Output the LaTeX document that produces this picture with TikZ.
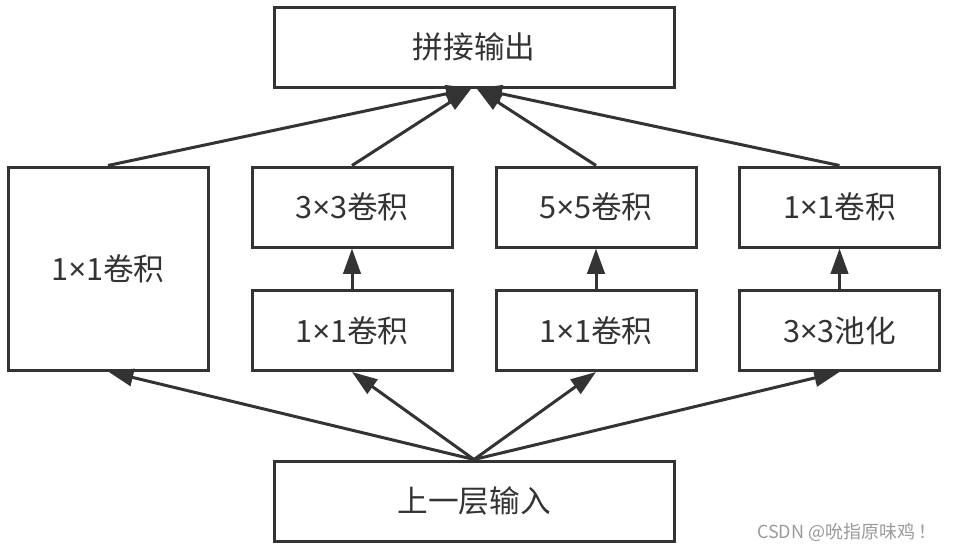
\documentclass[tikz,border=0pt]{standalone}
\usepackage{fontspec}
\setmainfont{Noto Sans CJK SC}
\newfontfamily\latinf{Noto Sans}
\newcommand{\mul}{{\latinf ×}}
\usepackage{tikz}
\usetikzlibrary{arrows.meta}
\definecolor{linec}{HTML}{333333}
\definecolor{wmc}{HTML}{9A9A9A}
\tikzset{every edge/.style={draw=linec, line width=2.25pt}}
\tikzset{>={Triangle[length=19pt,width=13pt]}}
\tikzset{box/.style={draw=linec, line width=2.25pt, inner sep=0pt,
    minimum width=150pt, minimum height=60pt, text=linec,
    font=\fontsize{23}{27}\selectfont}}
\tikzset{widebox/.style={box, minimum width=300pt}}

\begin{document}
\begin{tikzpicture}[x=0.75pt, y=-0.75pt]
    \useasboundingbox (0, 0) rectangle (953, 551);
    \node[widebox] at (474, 47) (out) {拼接输出};
    \node[box, minimum height=152.25pt] at (108, 268.5) (conv1) {1\mul1卷积};
    \node[box] at (352, 207) (conv3) {3\mul3卷积};
    \node[box] at (352, 330.5) (red3) {1\mul1卷积};
    \node[box] at (596, 207) (conv5) {5\mul5卷积};
    \node[box] at (596, 330.5) (red5) {1\mul1卷积};
    \node[box] at (839.5, 207) (proj) {1\mul1卷积};
    \node[box] at (839.5, 330.5) (pool) {3\mul3池化};
    \node[widebox] at (474, 501) (in) {上一层输入};

    % vom Eingang nach oben
    \draw (in.north) edge[->] (conv1.south);
    \draw (in.north) edge[->] (red3.south);
    \draw (in.north) edge[->] (red5.south);
    \draw (in.north) edge[->] (pool.south);
    \draw (red3) edge[->] (conv3);
    \draw (red5) edge[->] (conv5);
    \draw (pool) edge[->] (proj);

    % zum Ausgang
    \draw (conv1.north) edge[->] ([xshift=-2pt]out.south);
    \draw (conv3.north) edge[->] ([xshift=-2pt]out.south);
    \draw (conv5.north) edge[->] ([xshift=2pt]out.south);
    \draw (proj.north) edge[->] ([xshift=2pt]out.south);

    \node[anchor=east, text=wmc, font=\fontsize{13.5}{16}\selectfont] at (941, 532) (wm) {CSDN @吮指原味鸡\,！};
\end{tikzpicture}
\end{document}
